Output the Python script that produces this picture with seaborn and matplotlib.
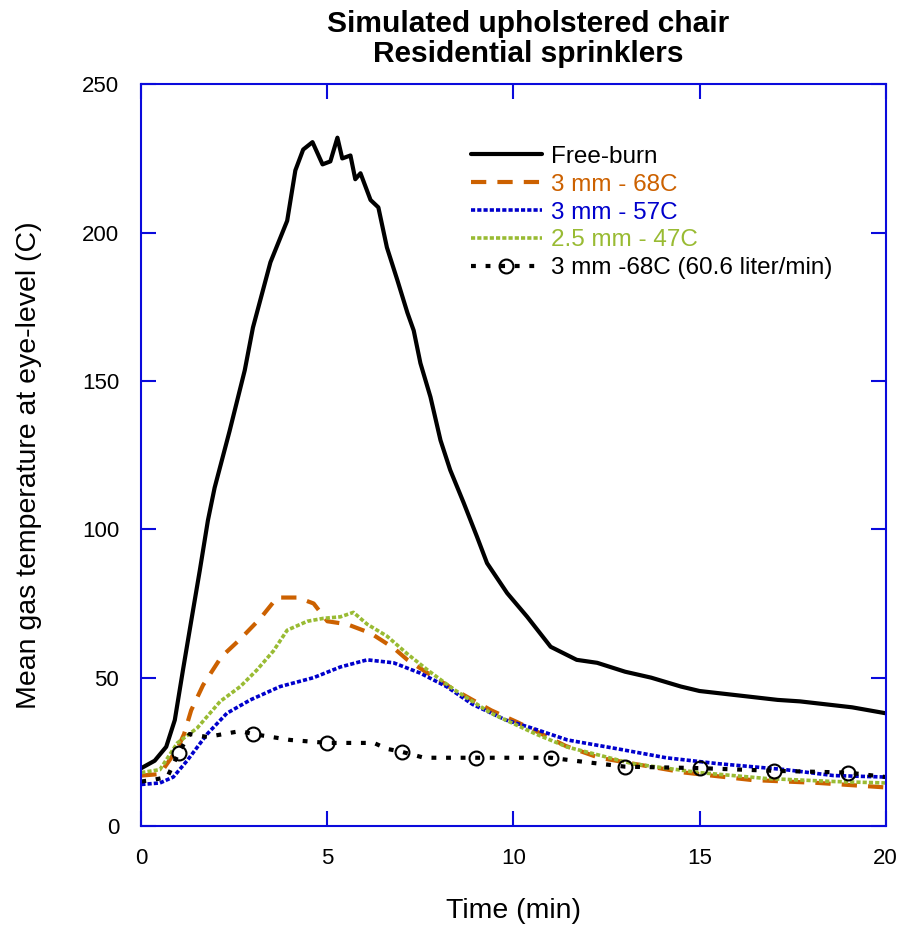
#!/usr/bin/env python
# -*- coding: utf-8 -*-
"""Eye-level gas temperature, simulated upholstered chair with residential sprinklers."""
import matplotlib
matplotlib.use('Agg')
import matplotlib.pyplot as plt
import seaborn as sns

# Free-burn
t_free = [0, 0.36, 0.67, 0.9, 1.12, 1.34, 1.57, 1.79, 1.97, 2.37, 2.78, 3.0,
          3.47, 3.92, 4.14, 4.35, 4.6, 4.87, 5.08, 5.27, 5.4, 5.62, 5.75, 5.89,
          6.16, 6.37, 6.6, 6.88, 7.15, 7.32, 7.5, 7.77, 8.04, 8.3, 8.66, 9.02,
          9.29, 9.83, 10.37, 11.0, 11.7, 12.25, 13.0, 13.7, 14.5, 15.0, 15.7,
          16.4, 17.1, 17.7, 18.4, 19.1, 20]
y_free = [19.5, 22, 26.7, 35.7, 52.6, 69, 86, 103, 114, 133, 153.6, 168,
          190, 204, 221, 228, 230.5, 223, 224, 232, 225, 226, 218, 220,
          211, 208.5, 195, 184, 173, 167, 156, 144.6, 130, 120, 109, 97.5,
          88.6, 78.5, 70.5, 60.4, 56, 55, 52, 50, 47, 45.5, 44.5,
          43.5, 42.5, 42, 41, 40, 38]

# 3 mm - 68C
t_68 = [0, 0.5, 0.97, 1.15, 1.34, 1.66, 2.15, 2.66, 3.2, 3.65, 4.2, 4.63, 5.0,
        5.53, 6.16, 6.78, 7.15, 7.7, 8.4, 9.4, 10.1, 10.6, 11.4, 12.3, 14.6,
        16.4, 18.2, 20]
y_68 = [17, 17.5, 26, 31, 39, 47.5, 57, 63, 70, 77, 77, 75, 69,
        68, 65, 60, 56, 51.5, 46, 39, 35, 32, 27, 23, 18,
        15.5, 14.5, 13]

# 3 mm - 57C
t_57 = [0, 0.5, 0.86, 1.23, 1.77, 2.3, 2.93, 3.73, 4.63, 5.35, 6.07, 6.78,
        7.5, 8.2, 8.9, 9.8, 10.5, 11.45, 12.8, 14.1, 15.5, 17.3, 18.6, 20]
y_57 = [14, 14.5, 16.5, 22, 31, 38, 42.5, 47, 50, 53.6, 56, 55,
        51.5, 47, 41, 35.7, 33, 29, 26, 23, 21, 19, 17, 16.5]

# 2.5 mm - 47C
t_47 = [0, 0.5, 0.97, 1.5, 2.12, 2.66, 3.1, 3.55, 3.92, 4.46, 4.9, 5.35, 5.7,
        6.07, 6.6, 7.15, 7.7, 8.4, 9.4, 10.6, 11.45, 13.2, 15.0, 16.8, 18.6, 20]
y_47 = [18, 19, 28, 33, 42, 47, 52.5, 59, 66, 69, 70, 70.5, 72,
        68, 64, 58, 52.5, 46, 38, 31, 26.6, 21, 18, 16, 15, 14.5]

# 3 mm -68C (60.6 liter/min), circles every 2 min
t_606 = [0, 0.3, 0.7, 1.0, 1.3, 1.77, 2.66, 3.0, 4.0, 5.0, 6.25, 6.6, 7.0,
         7.6, 9.0, 9.65, 11.0, 11.9, 13.0, 15.0, 17.0, 19.0, 20]
y_606 = [15, 15.5, 16.5, 24.6, 31, 30, 32, 31, 29, 28, 28, 26, 25,
         23, 23, 23, 23, 21.6, 20, 19.5, 18.6, 18, 16.5]
t_606_marks = [1, 3, 5, 7, 9, 11, 13, 15, 17, 19]

x_ticks = [0, 5, 10, 15, 20]
y_ticks = [0, 50, 100, 150, 200, 250]

sns.set_style('white')
plt.rcParams['font.family'] = ['Liberation Sans', 'DejaVu Sans']
plt.rcParams['lines.scale_dashes'] = False
plt.rcParams['text.color'] = 'black'
plt.rcParams['axes.labelcolor'] = 'black'

AX_BLUE = '#0A0ADC'
C_ORANGE = '#CC6100'
C_BLUE = '#0000CC'
C_GREEN = '#99BB33'

fig = plt.figure(figsize=(9, 9.26), dpi=100)
ax = fig.add_axes([0.157, 0.108, 0.827, 0.801])

sns.lineplot(x=t_free, y=y_free, ax=ax, color='black', lw=3.0, sort=False,
             label='Free-burn')
sns.lineplot(x=t_68, y=y_68, ax=ax, color=C_ORANGE, lw=3.0, sort=False,
             linestyle=(0, (11, 8)), label='3 mm - 68C')
sns.lineplot(x=t_57, y=y_57, ax=ax, color=C_BLUE, lw=2.6, sort=False,
             linestyle=(0, (3, 1.5)), label='3 mm - 57C')
sns.lineplot(x=t_47, y=y_47, ax=ax, color=C_GREEN, lw=2.6, sort=False,
             linestyle=(0, (3, 1.5)), label='2.5 mm - 47C')
mark_idx = [i for i, t in enumerate(t_606) if t in t_606_marks]
sns.lineplot(x=t_606, y=y_606, ax=ax, color='black', lw=3.0, sort=False,
             linestyle=(0, (3.5, 7)), marker='o', markersize=10,
             markerfacecolor='none', markeredgecolor='black',
             markeredgewidth=1.5, markevery=mark_idx,
             label='3 mm -68C (60.6 liter/min)')

ax.set_xlim(0, 20)
ax.set_ylim(0, 250)
ax.set_xticks(x_ticks)
ax.set_yticks(y_ticks)
ax.tick_params(axis='both', which='major', direction='in', length=11,
               width=1.5, color=AX_BLUE, labelsize=16, labelcolor='black',
               top=True, right=True, bottom=True, left=True)
ax.tick_params(axis='x', pad=16)
ax.tick_params(axis='y', pad=16)
for spine in ax.spines.values():
    spine.set_color(AX_BLUE)
    spine.set_linewidth(1.5)

ax.set_xlabel('Time (min)', fontsize=20.5)
ax.set_ylabel('Mean gas temperature at eye-level (C)', fontsize=20.5)
ax.xaxis.set_label_coords(0.5, -0.097)
ax.yaxis.set_label_coords(-0.133, 0.486)
ax.set_title('Simulated upholstered chair\nResidential sprinklers',
             fontsize=21.5, fontweight='bold', pad=16, x=0.52, linespacing=1.1)

leg = ax.legend(loc='upper left', bbox_to_anchor=(0.43, 0.93), frameon=False,
                fontsize=17.5, handlelength=2.9, handletextpad=0.4,
                labelspacing=0.24, borderaxespad=0)
for txt, col in zip(leg.get_texts(),
                    ['black', C_ORANGE, C_BLUE, C_GREEN, 'black']):
    txt.set_color(col)

fig.savefig('out.png', dpi=100, facecolor='white')
